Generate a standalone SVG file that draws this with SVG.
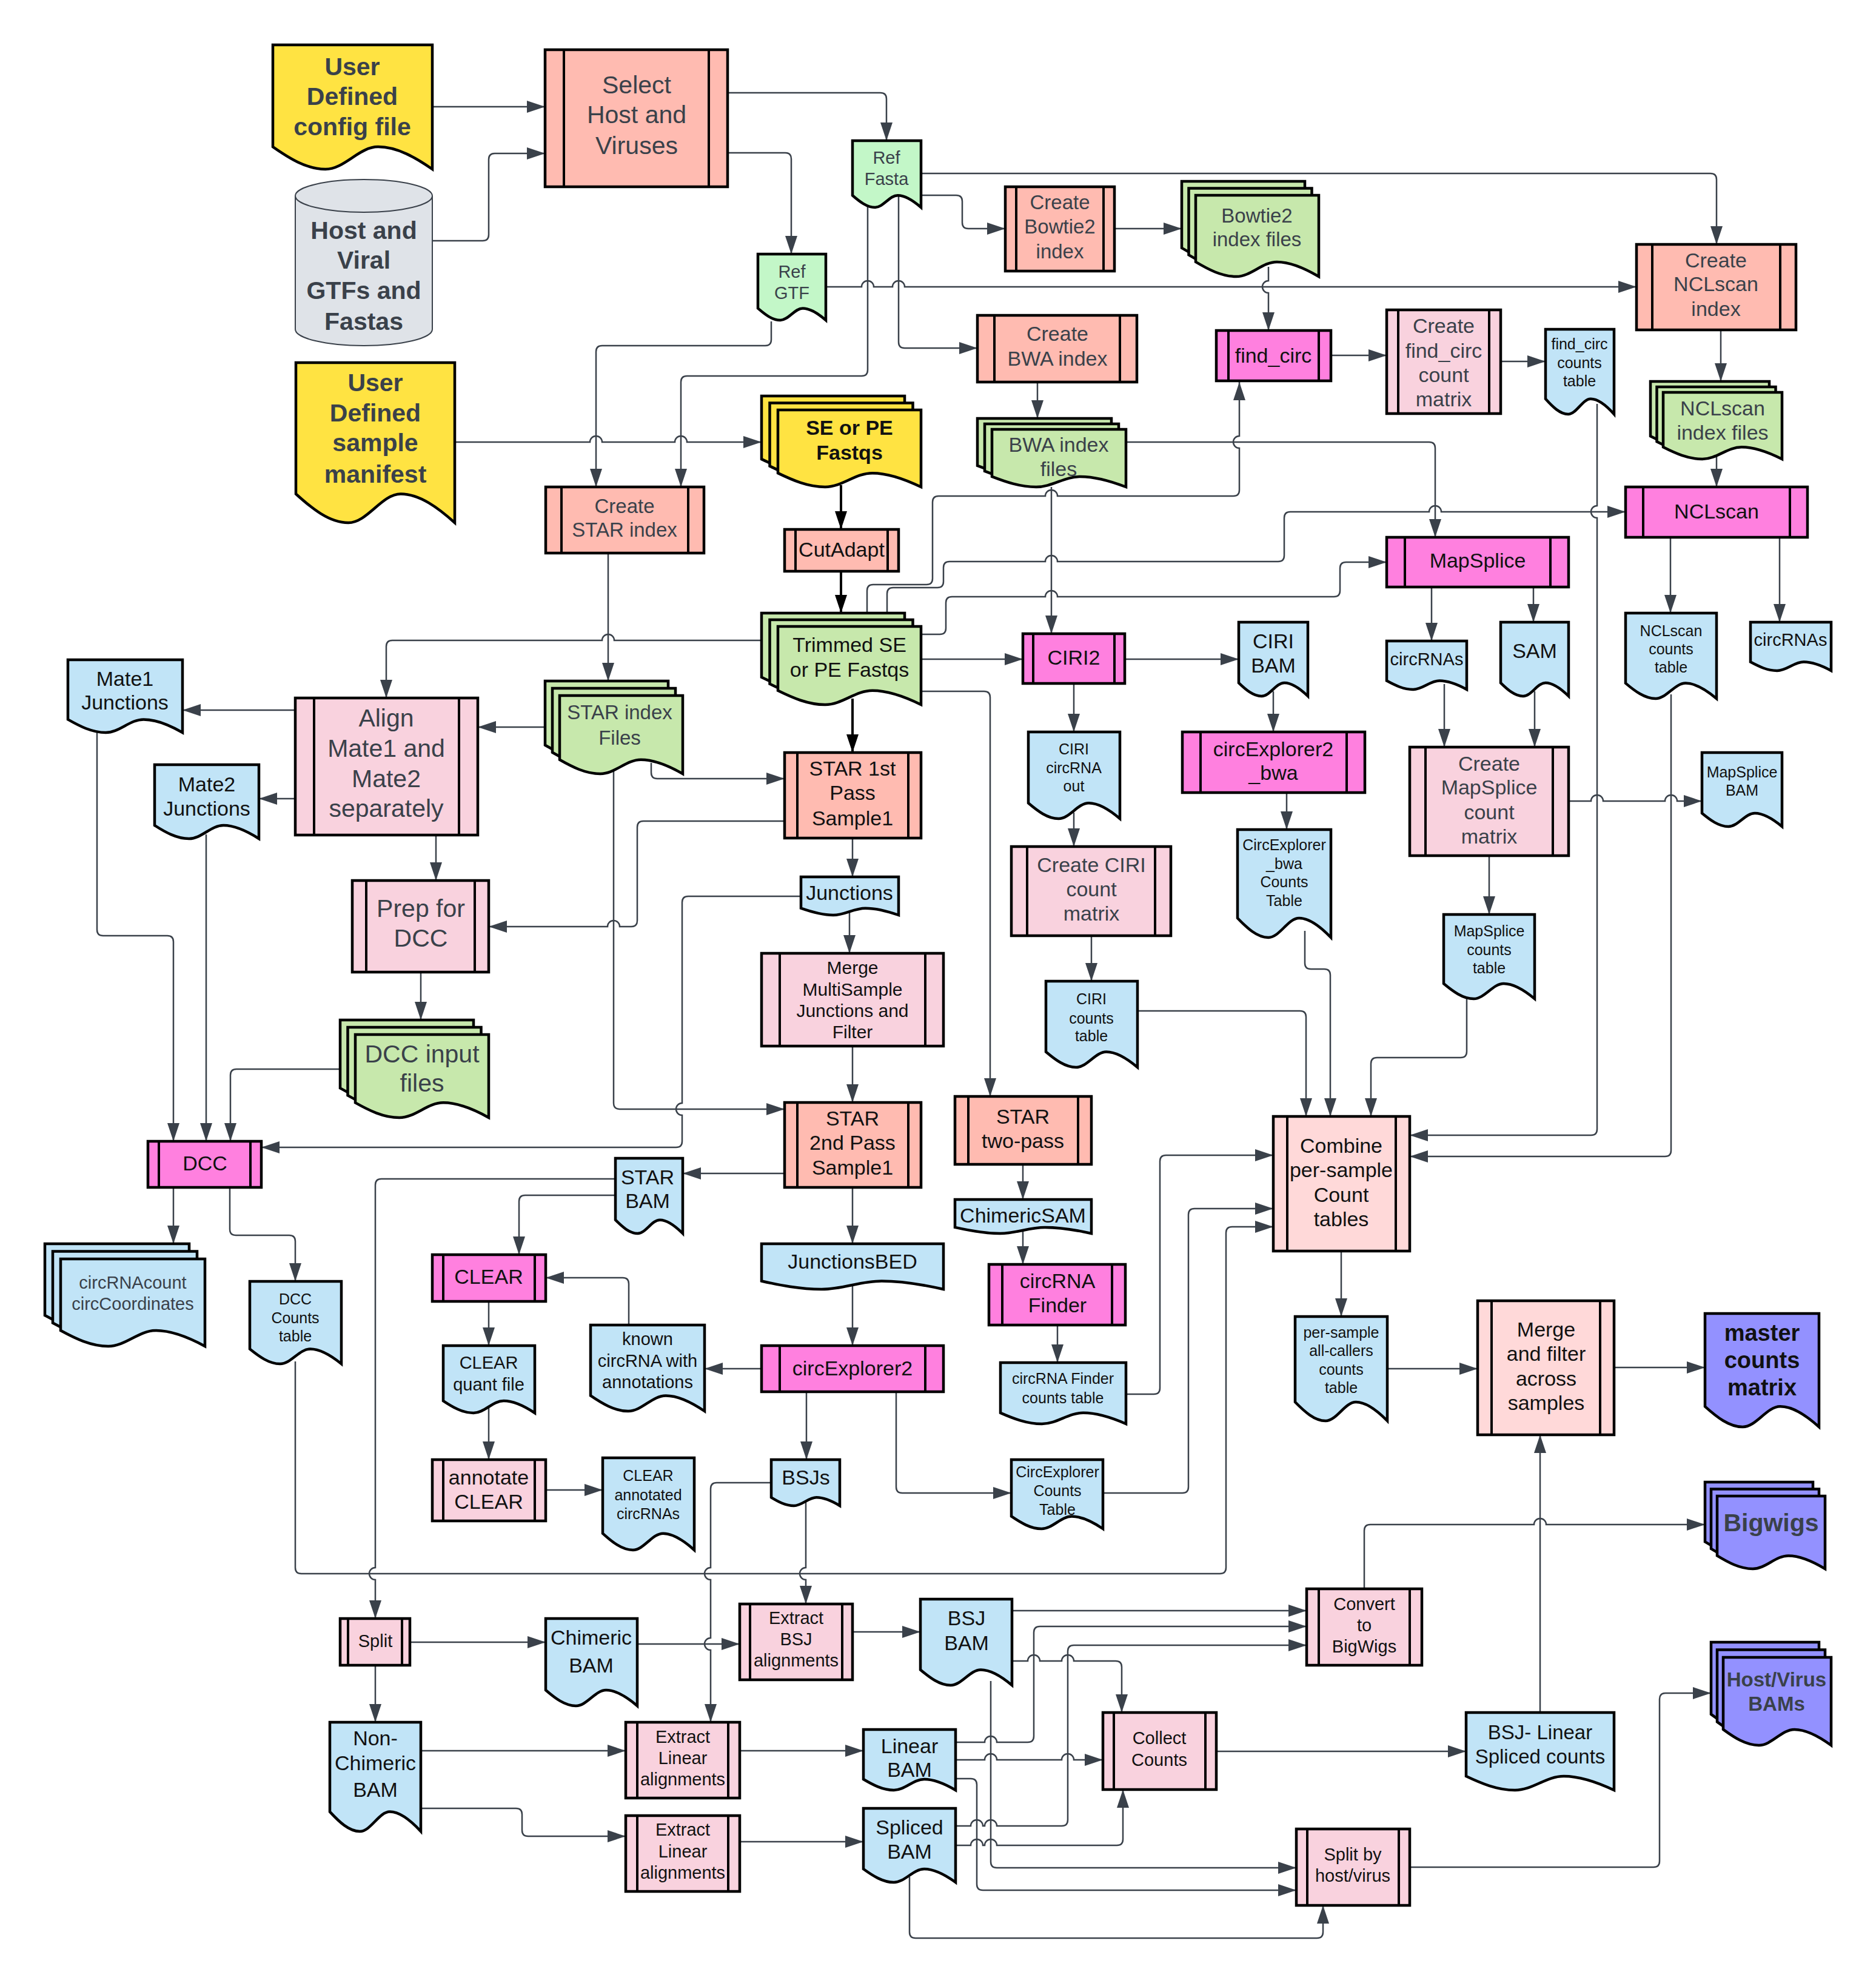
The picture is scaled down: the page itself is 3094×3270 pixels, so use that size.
<svg xmlns="http://www.w3.org/2000/svg" width="3094" height="3270" viewBox="0 0 3094 3270">
<defs>
<style>
.pb{stroke:#000;stroke-width:4.5}
.bar{stroke:#000;stroke-width:4;fill:none}
.d{stroke:#000;stroke-width:4.5;vector-effect:non-scaling-stroke}
.c{fill:none;stroke:#3a414a;stroke-width:2.5;marker-end:url(#ah)}
.ck{fill:none;stroke:#000;stroke-width:4;marker-end:url(#ahk)}
.sal{fill:#FFBBB1}.lp{fill:#F9D2DE}.xp{fill:#FFD9D9}.mg{fill:#FF80DF}.bl{fill:#C1E4F7}.gr{fill:#C7E8AC}.lg{fill:#C3F7C8}.ye{fill:#FFE342}.pu{fill:#9391FF}
text{font-family:"Liberation Sans",Arial,"Noto Sans",sans-serif;text-anchor:middle;dominant-baseline:central;fill:#111}
.g{fill:#3a414a}.b{font-weight:bold}
.f41{font-size:41px}.f38{font-size:38px}.f34{font-size:34px}.f33{font-size:33px}.f30{font-size:30px}.f29{font-size:29px}.f25{font-size:25px}
</style>
<marker id="ah" viewBox="0 0 30 20" refX="30" refY="10" markerWidth="30" markerHeight="20" markerUnits="userSpaceOnUse" orient="auto"><path d="M0,0 L30,10 L0,20 Z" fill="#3a414a"/></marker>
<marker id="ahk" viewBox="0 0 30 20" refX="30" refY="10" markerWidth="30" markerHeight="20" markerUnits="userSpaceOnUse" orient="auto"><path d="M0,0 L30,10 L0,20 Z" fill="#000"/></marker>
</defs>
<rect width="3094" height="3270" fill="#fff"/>

<g id="connectors">
<path class="c" d="M713,176 H899"/>
<path class="c" d="M713,397 H796 Q806,397 806,387 V263 Q806,253 816,253 H899"/>
<path class="c" d="M1200,153 H1452 Q1462,153 1462,163 V232"/>
<path class="c" d="M1200,252 H1295 Q1305,252 1305,262 V419"/>
<path class="c" d="M750,729 H973 A10,10 0 0 1 993,729 H1113 A10,10 0 0 1 1133,729 H1256"/>
<path class="c" d="M1272,530 V560 Q1272,570 1262,570 H993 Q983,570 983,580 V803"/>
<path class="c" d="M1431,340 V610 Q1431,620 1421,620 H1133 Q1123,620 1123,630 V803"/>
<path class="c" d="M1362,473 H1421 A10,10 0 0 1 1441,473 H1472 A10,10 0 0 1 1492,473 H2699"/>
<path class="c" d="M1519,286 H2821 Q2831,286 2831,296 V403"/>
<path class="c" d="M1519,322 H1577 Q1587,322 1587,332 V367 Q1587,377 1597,377 H1658"/>
<path class="c" d="M1838,377 H1949"/>
<path class="c" d="M1482,324 V564 Q1482,574 1492,574 H1612"/>
<path class="c" d="M1711,630 V690"/>
<path class="c" d="M2092,440 V463 A10,10 0 0 0 2092,483 V545"/>
<path class="c" d="M2195,586 H2287"/>
<path class="c" d="M2475,596 H2549"/>
<path class="c" d="M2838,544 V629"/>
<path class="c" d="M2831,752 V803"/>
<path class="ck" d="M1387,800 V873"/>
<path class="ck" d="M1387,942 V1011"/>
<path class="ck" d="M1406,1152 V1241"/>
<path class="c" d="M1430,1011 V974 Q1430,964 1440,964 H1528 Q1538,964 1538,954 V828 Q1538,818 1548,818 H1724 A10,10 0 0 1 1744,818 H2034 Q2044,818 2044,808 V739 A10,10 0 0 1 2044,719 V630"/>
<path class="c" d="M1463,1011 V979 Q1463,969 1473,969 H1546 Q1556,969 1556,959 V936 Q1556,926 1566,926 H1724 A10,10 0 0 1 1744,926 H2108 Q2118,926 2118,916 V854 Q2118,844 2128,844 H2357 A10,10 0 0 1 2377,844 H2681"/>
<path class="c" d="M1519,1046 H1550 Q1560,1046 1560,1036 V994 Q1560,984 1570,984 H1724 A10,10 0 0 1 1744,984 H2200 Q2210,984 2210,974 V937 Q2210,927 2220,927 H2287"/>
<path class="c" d="M1734,803 V1045"/>
<path class="c" d="M1857,729 H2357 Q2367,729 2367,739 V886"/>
<path class="c" d="M2361,968 V1057"/>
<path class="c" d="M2529,968 V1026"/>
<path class="c" d="M2382,1128 V1232"/>
<path class="c" d="M2531,1140 V1232"/>
<path class="c" d="M2587,1321 H2624 A10,10 0 0 1 2644,1321 H2746 A10,10 0 0 1 2766,1321 H2807"/>
<path class="c" d="M2456,1411 V1508"/>
<path class="c" d="M2755,886 V1011"/>
<path class="c" d="M2935,886 V1026"/>
<path class="c" d="M2634,666 V834 A10,10 0 0 0 2634,854 V1862 Q2634,1872 2624,1872 H2325"/>
<path class="c" d="M2756,1145 V1897 Q2756,1907 2746,1907 H2325"/>
<path class="c" d="M2419,1638 V1734 Q2419,1744 2409,1744 H2271 Q2261,1744 2261,1754 V1841"/>
<path class="c" d="M2152,1535 V1588 Q2152,1598 2162,1598 H2184 Q2194,1598 2194,1608 V1841"/>
<path class="c" d="M1876,1667 H2144 Q2154,1667 2154,1677 V1841"/>
<path class="c" d="M1855,1087 H2043"/>
<path class="c" d="M1519,1087 H1687"/>
<path class="c" d="M2100,1140 V1207"/>
<path class="c" d="M2122,1307 V1368"/>
<path class="c" d="M1771,1127 V1207"/>
<path class="c" d="M1771,1340 V1396"/>
<path class="c" d="M1800,1543 V1618"/>
<path class="c" d="M1519,1140 H1623 Q1633,1140 1633,1150 V1808"/>
<path class="c" d="M1687,1920 V1978"/>
<path class="c" d="M1687,2030 V2085"/>
<path class="c" d="M1744,2185 V2247"/>
<path class="c" d="M1857,2299 H1903 Q1913,2299 1913,2289 V1915 Q1913,1905 1923,1905 H2100"/>
<path class="c" d="M1819,2462 H1950 Q1960,2462 1960,2452 V2003 Q1960,1993 1970,1993 H2100"/>
<path class="c" d="M487,2245 V2585 Q487,2595 497,2595 H2012 Q2022,2595 2022,2585 V2033 Q2022,2023 2032,2023 H2100"/>
<path class="c" d="M2212,2063 V2171"/>
<path class="c" d="M2288,2257 H2437"/>
<path class="c" d="M2662,2255 H2812"/>
<path class="c" d="M1256,1056 H1013 A10,10 0 0 0 993,1056 H647 Q637,1056 637,1066 V1151"/>
<path class="c" d="M1003,912 V1123"/>
<path class="c" d="M899,1199 H788"/>
<path class="c" d="M487,1171 H301"/>
<path class="c" d="M487,1317 H427"/>
<path class="c" d="M719,1377 V1452"/>
<path class="c" d="M694,1603 V1682"/>
<path class="c" d="M1074,1258 V1274 Q1074,1284 1084,1284 H1294"/>
<path class="c" d="M1294,1354 H1061 Q1051,1354 1051,1364 V1518 Q1051,1528 1041,1528 H1022 A10,10 0 0 0 1002,1528 H806"/>
<path class="c" d="M1406,1382 V1446"/>
<path class="c" d="M1321,1478 H1135 Q1125,1478 1125,1488 V1819 A10,10 0 0 0 1125,1839 V1882 Q1125,1892 1115,1892 H431"/>
<path class="c" d="M1012,1272 V1819 Q1012,1829 1022,1829 H1294"/>
<path class="c" d="M1406,1725 V1818"/>
<path class="c" d="M1401,1505 V1572"/>
<path class="c" d="M1294,1935 H1126"/>
<path class="c" d="M1406,1958 V2051"/>
<path class="c" d="M1406,2120 V2219"/>
<path class="c" d="M1256,2257 H1162"/>
<path class="c" d="M1037,2185 V2117 Q1037,2107 1027,2107 H900"/>
<path class="c" d="M1015,1971 H866 Q856,1971 856,1981 V2069"/>
<path class="c" d="M1015,1944 H629 Q619,1944 619,1954 V2585 A10,10 0 0 0 619,2605 V2669"/>
<path class="c" d="M806,2146 V2219"/>
<path class="c" d="M806,2322 V2407"/>
<path class="c" d="M900,2457 H994"/>
<path class="c" d="M286,1958 V2051"/>
<path class="c" d="M379,1958 V2027 Q379,2037 389,2037 H477 Q487,2037 487,2047 V2113"/>
<path class="c" d="M160,1205 V1533 Q160,1543 170,1543 H276 Q286,1543 286,1553 V1882"/>
<path class="c" d="M340,1376 V1882"/>
<path class="c" d="M561,1763 H390 Q380,1763 380,1773 V1882"/>
<path class="c" d="M1330,2295 V2407"/>
<path class="c" d="M1478,2295 V2452 Q1478,2462 1488,2462 H1668"/>
<path class="c" d="M1272,2445 H1182 Q1172,2445 1172,2455 V2585 A10,10 0 0 0 1172,2605 V2701 A10,10 0 0 0 1172,2721 V2840"/>
<path class="c" d="M1329,2476 V2585 A10,10 0 0 0 1329,2605 V2645"/>
<path class="c" d="M676,2708 H900"/>
<path class="c" d="M619,2746 V2840"/>
<path class="c" d="M1051,2711 H1220"/>
<path class="c" d="M694,2887 H1032"/>
<path class="c" d="M694,2982 H851 Q861,2982 861,2992 V3018 Q861,3028 871,3028 H1032"/>
<path class="c" d="M1406,2691 H1518"/>
<path class="c" d="M1220,2887 H1424"/>
<path class="c" d="M1220,3037 H1424"/>
<path class="c" d="M1669,2656 H2155"/>
<path class="c" d="M1576,2873 H1624 A10,10 0 0 1 1644,2873 H1695 Q1705,2873 1705,2863 V2692 Q1705,2682 1715,2682 H2155"/>
<path class="c" d="M1576,3011 H1601 A10,10 0 0 1 1621,3011 H1624 A10,10 0 0 1 1644,3011 H1751 Q1761,3011 1761,3001 V2723 Q1761,2713 1771,2713 H2155"/>
<path class="c" d="M1669,2739 H1695 A10,10 0 0 1 1715,2739 H1751 A10,10 0 0 1 1771,2739 H1840 Q1850,2739 1850,2749 V2824"/>
<path class="c" d="M1576,2902 H1624 A10,10 0 0 1 1644,2902 H1751 A10,10 0 0 1 1771,2902 H1819"/>
<path class="c" d="M1576,3043 H1601 A10,10 0 0 1 1621,3043 H1624 A10,10 0 0 1 1644,3043 H1842 Q1852,3043 1852,3033 V2951"/>
<path class="c" d="M1634,2772 V3070 Q1634,3080 1644,3080 H2138"/>
<path class="c" d="M1576,2933 H1601 Q1611,2933 1611,2943 V3107 Q1611,3117 1621,3117 H2138"/>
<path class="c" d="M1500,3095 V3186 Q1500,3196 1510,3196 H2172 Q2182,3196 2182,3186 V3142"/>
<path class="c" d="M2006,2888 H2418"/>
<path class="c" d="M2540,2824 V2366"/>
<path class="c" d="M2250,2620 V2524 Q2250,2514 2260,2514 H2530 A10,10 0 0 1 2550,2514 H2812"/>
<path class="c" d="M2325,3079 H2727 Q2737,3079 2737,3069 V2802 Q2737,2792 2747,2792 H2822"/>
</g>

<!-- Inputs -->
<g id="n-config">
<path class="d ye" transform="translate(450,74) scale(263,205)" d="M0,0H1V1C0.9,0.91 0.78,0.82 0.66,0.82C0.54,0.82 0.45,1 0.33,1C0.21,1 0.1,0.91 0,0.82Z"/>
<text class="f41 b g"><tspan x="581" y="110">User</tspan><tspan x="581" y="159">Defined</tspan><tspan x="581" y="209">config file</tspan></text>
</g>
<g id="n-hostviral">
<path d="M487,323 V543 A113,27 0 0 0 713,543 V323 A113,27 0 0 0 487,323 Z" fill="#DFE3E8" stroke="#3a414a" stroke-width="2"/>
<path d="M487,323 A113,27 0 0 0 713,323" fill="none" stroke="#3a414a" stroke-width="2"/>
<text class="f41 b g"><tspan x="600" y="380">Host and</tspan><tspan x="600" y="429">Viral</tspan><tspan x="600" y="479">GTFs and</tspan><tspan x="600" y="530">Fastas</tspan></text>
</g>
<g id="n-manifest">
<path class="d ye" transform="translate(488,598) scale(262,264)" d="M0,0H1V1C0.9,0.91 0.78,0.82 0.66,0.82C0.54,0.82 0.45,1 0.33,1C0.21,1 0.1,0.91 0,0.82Z"/>
<text class="f41 b g"><tspan x="619" y="631">User</tspan><tspan x="619" y="681">Defined</tspan><tspan x="619" y="730">sample</tspan><tspan x="619" y="782">manifest</tspan></text>
</g>
<g id="n-select">
<rect class="pb sal" x="899" y="82" width="301" height="226"/><path class="bar" d="M930,82v226M1169,82v226"/>
<text class="f41 g"><tspan x="1050" y="140">Select</tspan><tspan x="1050" y="189">Host and</tspan><tspan x="1050" y="240">Viruses</tspan></text>
</g>
<g id="n-reffasta">
<path class="d lg" transform="translate(1406,232) scale(113,110)" d="M0,0H1V1C0.9,0.91 0.78,0.82 0.66,0.82C0.54,0.82 0.45,1 0.33,1C0.21,1 0.1,0.91 0,0.82Z"/>
<text class="f29 g"><tspan x="1462" y="260">Ref</tspan><tspan x="1462" y="295">Fasta</tspan></text>
</g>
<g id="n-refgtf">
<path class="d lg" transform="translate(1250,419) scale(112,109)" d="M0,0H1V1C0.9,0.91 0.78,0.82 0.66,0.82C0.54,0.82 0.45,1 0.33,1C0.21,1 0.1,0.91 0,0.82Z"/>
<text class="f29 g"><tspan x="1306" y="448">Ref</tspan><tspan x="1306" y="483">GTF</tspan></text>
</g>
<g id="n-bowtie2">
<rect class="pb sal" x="1658" y="308" width="180" height="139"/><path class="bar" d="M1676,308v139M1820,308v139"/>
<text class="f33 g"><tspan x="1748" y="333">Create</tspan><tspan x="1748" y="373">Bowtie2</tspan><tspan x="1748" y="414">index</tspan></text>
</g>
<g id="n-bowtie2files">
<path class="d gr" transform="translate(1949,299) scale(203,134)" d="M0,0H1V1C0.9,0.91 0.78,0.82 0.66,0.82C0.54,0.82 0.45,1 0.33,1C0.21,1 0.1,0.91 0,0.82Z"/>
<path class="d gr" transform="translate(1960.5,310.5) scale(203,134)" d="M0,0H1V1C0.9,0.91 0.78,0.82 0.66,0.82C0.54,0.82 0.45,1 0.33,1C0.21,1 0.1,0.91 0,0.82Z"/>
<path class="d gr" transform="translate(1972,322) scale(203,134)" d="M0,0H1V1C0.9,0.91 0.78,0.82 0.66,0.82C0.54,0.82 0.45,1 0.33,1C0.21,1 0.1,0.91 0,0.82Z"/>
<text class="f33 g"><tspan x="2073" y="355">Bowtie2</tspan><tspan x="2073" y="394">index files</tspan></text>
</g>
<g id="n-bwa">
<rect class="pb sal" x="1612" y="520" width="263" height="110"/><path class="bar" d="M1640,520v110M1847,520v110"/>
<text class="f34 g"><tspan x="1744" y="550">Create</tspan><tspan x="1744" y="591">BWA index</tspan></text>
</g>
<g id="n-bwafiles">
<path class="d gr" transform="translate(1612,690) scale(221,95)" d="M0,0H1V1C0.9,0.91 0.78,0.82 0.66,0.82C0.54,0.82 0.45,1 0.33,1C0.21,1 0.1,0.91 0,0.82Z"/>
<path class="d gr" transform="translate(1624,699) scale(221,95)" d="M0,0H1V1C0.9,0.91 0.78,0.82 0.66,0.82C0.54,0.82 0.45,1 0.33,1C0.21,1 0.1,0.91 0,0.82Z"/>
<path class="d gr" transform="translate(1636,708) scale(221,95)" d="M0,0H1V1C0.9,0.91 0.78,0.82 0.66,0.82C0.54,0.82 0.45,1 0.33,1C0.21,1 0.1,0.91 0,0.82Z"/>
<text class="f34 g"><tspan x="1746" y="733">BWA index</tspan><tspan x="1746" y="773">files</tspan></text>
</g>
<g id="n-nclscanidx">
<rect class="pb sal" x="2699" y="403" width="263" height="141"/><path class="bar" d="M2725,403v141M2936,403v141"/>
<text class="f34 g"><tspan x="2830" y="429">Create</tspan><tspan x="2830" y="468">NCLscan</tspan><tspan x="2830" y="509">index</tspan></text>
</g>
<g id="n-nclscanfiles">
<path class="d gr" transform="translate(2722,629) scale(196,110)" d="M0,0H1V1C0.9,0.91 0.78,0.82 0.66,0.82C0.54,0.82 0.45,1 0.33,1C0.21,1 0.1,0.91 0,0.82Z"/>
<path class="d gr" transform="translate(2732.5,638) scale(196,110)" d="M0,0H1V1C0.9,0.91 0.78,0.82 0.66,0.82C0.54,0.82 0.45,1 0.33,1C0.21,1 0.1,0.91 0,0.82Z"/>
<path class="d gr" transform="translate(2743,647) scale(196,110)" d="M0,0H1V1C0.9,0.91 0.78,0.82 0.66,0.82C0.54,0.82 0.45,1 0.33,1C0.21,1 0.1,0.91 0,0.82Z"/>
<text class="f34 g"><tspan x="2841" y="673">NCLscan</tspan><tspan x="2841" y="713">index files</tspan></text>
</g>
<g id="n-findcirc">
<rect class="pb mg" x="2006" y="545" width="189" height="83"/><path class="bar" d="M2026,545v83M2175,545v83"/>
<text class="f34" x="2100" y="586">find_circ</text>
</g>
<g id="n-createfindcirc">
<rect class="pb lp" x="2287" y="511" width="188" height="171"/><path class="bar" d="M2306,511v171M2456,511v171"/>
<text class="f34 g"><tspan x="2381" y="537">Create</tspan><tspan x="2381" y="578">find_circ</tspan><tspan x="2381" y="618">count</tspan><tspan x="2381" y="658">matrix</tspan></text>
</g>
<g id="n-findcirccounts">
<path class="d bl" transform="translate(2549,543) scale(113,140)" d="M0,0H1V1C0.9,0.91 0.78,0.82 0.66,0.82C0.54,0.82 0.45,1 0.33,1C0.21,1 0.1,0.91 0,0.82Z"/>
<text class="f25"><tspan x="2605" y="567">find_circ</tspan><tspan x="2605" y="598">counts</tspan><tspan x="2605" y="628">table</tspan></text>
</g>
<g id="n-starindex">
<rect class="pb sal" x="900" y="803" width="261" height="109"/><path class="bar" d="M926,803v109M1135,803v109"/>
<text class="f33 g"><tspan x="1030" y="834">Create</tspan><tspan x="1030" y="873">STAR index</tspan></text>
</g>
<g id="n-sepe">
<path class="d ye" transform="translate(1256,653) scale(236,127)" d="M0,0H1V1C0.9,0.91 0.78,0.82 0.66,0.82C0.54,0.82 0.45,1 0.33,1C0.21,1 0.1,0.91 0,0.82Z"/>
<path class="d ye" transform="translate(1269.5,664.5) scale(236,127)" d="M0,0H1V1C0.9,0.91 0.78,0.82 0.66,0.82C0.54,0.82 0.45,1 0.33,1C0.21,1 0.1,0.91 0,0.82Z"/>
<path class="d ye" transform="translate(1283,676) scale(236,127)" d="M0,0H1V1C0.9,0.91 0.78,0.82 0.66,0.82C0.54,0.82 0.45,1 0.33,1C0.21,1 0.1,0.91 0,0.82Z"/>
<text class="f34 b"><tspan x="1401" y="705">SE or PE</tspan><tspan x="1401" y="746">Fastqs</tspan></text>
</g>
<g id="n-cutadapt">
<rect class="pb sal" x="1294" y="873" width="188" height="69"/><path class="bar" d="M1312,873v69M1464,873v69"/>
<text class="f34" x="1388" y="906">CutAdapt</text>
</g>
<g id="n-trimmed">
<path class="d gr" transform="translate(1256,1011) scale(236,129)" d="M0,0H1V1C0.9,0.91 0.78,0.82 0.66,0.82C0.54,0.82 0.45,1 0.33,1C0.21,1 0.1,0.91 0,0.82Z"/>
<path class="d gr" transform="translate(1269.5,1022) scale(236,129)" d="M0,0H1V1C0.9,0.91 0.78,0.82 0.66,0.82C0.54,0.82 0.45,1 0.33,1C0.21,1 0.1,0.91 0,0.82Z"/>
<path class="d gr" transform="translate(1283,1033) scale(236,129)" d="M0,0H1V1C0.9,0.91 0.78,0.82 0.66,0.82C0.54,0.82 0.45,1 0.33,1C0.21,1 0.1,0.91 0,0.82Z"/>
<text class="f34"><tspan x="1401" y="1063">Trimmed SE</tspan><tspan x="1401" y="1104">or PE Fastqs</tspan></text>
</g>
<g id="n-nclscan">
<rect class="pb mg" x="2681" y="803" width="300" height="83"/><path class="bar" d="M2710,803v83M2952,803v83"/>
<text class="f34" x="2831" y="843">NCLscan</text>
</g>
<g id="n-mapsplice">
<rect class="pb mg" x="2287" y="886" width="300" height="82"/><path class="bar" d="M2317,886v82M2557,886v82"/>
<text class="f34" x="2437" y="924">MapSplice</text>
</g>
<g id="n-mscircrnas">
<path class="d bl" transform="translate(2287,1057) scale(132,80)" d="M0,0H1V1C0.9,0.91 0.78,0.82 0.66,0.82C0.54,0.82 0.45,1 0.33,1C0.21,1 0.1,0.91 0,0.82Z"/>
<text class="f29" x="2353" y="1087">circRNAs</text>
</g>
<g id="n-sam">
<path class="d bl" transform="translate(2475,1026) scale(112,122)" d="M0,0H1V1C0.9,0.91 0.78,0.82 0.66,0.82C0.54,0.82 0.45,1 0.33,1C0.21,1 0.1,0.91 0,0.82Z"/>
<text class="f34" x="2531" y="1073">SAM</text>
</g>
<g id="n-nclcounts">
<path class="d bl" transform="translate(2681,1011) scale(150,141)" d="M0,0H1V1C0.9,0.91 0.78,0.82 0.66,0.82C0.54,0.82 0.45,1 0.33,1C0.21,1 0.1,0.91 0,0.82Z"/>
<text class="f25"><tspan x="2756" y="1040">NCLscan</tspan><tspan x="2756" y="1070">counts</tspan><tspan x="2756" y="1100">table</tspan></text>
</g>
<g id="n-nclcircrnas">
<path class="d bl" transform="translate(2887,1026) scale(133,80)" d="M0,0H1V1C0.9,0.91 0.78,0.82 0.66,0.82C0.54,0.82 0.45,1 0.33,1C0.21,1 0.1,0.91 0,0.82Z"/>
<text class="f29" x="2953" y="1055">circRNAs</text>
</g>
<g id="n-ciri2">
<rect class="pb mg" x="1687" y="1045" width="168" height="82"/><path class="bar" d="M1704,1045v82M1838,1045v82"/>
<text class="f34" x="1771" y="1084">CIRI2</text>
</g>
<g id="n-ciribam">
<path class="d bl" transform="translate(2043,1026) scale(114,122)" d="M0,0H1V1C0.9,0.91 0.78,0.82 0.66,0.82C0.54,0.82 0.45,1 0.33,1C0.21,1 0.1,0.91 0,0.82Z"/>
<text class="f34"><tspan x="2100" y="1057">CIRI</tspan><tspan x="2100" y="1097">BAM</tspan></text>
</g>
<g id="n-ce2bwa">
<rect class="pb mg" x="1950" y="1207" width="301" height="100"/><path class="bar" d="M1980,1207v100M2221,1207v100"/>
<text class="f34"><tspan x="2100" y="1235">circExplorer2</tspan><tspan x="2100" y="1274">_bwa</tspan></text>
</g>
<g id="n-ce2bwacounts">
<path class="d bl" transform="translate(2041,1368) scale(154,178)" d="M0,0H1V1C0.9,0.91 0.78,0.82 0.66,0.82C0.54,0.82 0.45,1 0.33,1C0.21,1 0.1,0.91 0,0.82Z"/>
<text class="f25"><tspan x="2118" y="1393">CircExplorer</tspan><tspan x="2118" y="1424">_bwa</tspan><tspan x="2118" y="1454">Counts</tspan><tspan x="2118" y="1485">Table</tspan></text>
</g>
<g id="n-createms">
<rect class="pb lp" x="2325" y="1232" width="262" height="179"/><path class="bar" d="M2351,1232v179M2561,1232v179"/>
<text class="f34 g"><tspan x="2456" y="1259">Create</tspan><tspan x="2456" y="1298">MapSplice</tspan><tspan x="2456" y="1339">count</tspan><tspan x="2456" y="1379">matrix</tspan></text>
</g>
<g id="n-msbam">
<path class="d bl" transform="translate(2807,1241) scale(132,122)" d="M0,0H1V1C0.9,0.91 0.78,0.82 0.66,0.82C0.54,0.82 0.45,1 0.33,1C0.21,1 0.1,0.91 0,0.82Z"/>
<text class="f25"><tspan x="2873" y="1273">MapSplice</tspan><tspan x="2873" y="1303">BAM</tspan></text>
</g>
<g id="n-mscounts">
<path class="d bl" transform="translate(2381,1508) scale(150,139)" d="M0,0H1V1C0.9,0.91 0.78,0.82 0.66,0.82C0.54,0.82 0.45,1 0.33,1C0.21,1 0.1,0.91 0,0.82Z"/>
<text class="f25"><tspan x="2456" y="1535">MapSplice</tspan><tspan x="2456" y="1566">counts</tspan><tspan x="2456" y="1596">table</tspan></text>
</g>
<g id="n-ciriout">
<path class="d bl" transform="translate(1696,1207) scale(151,143)" d="M0,0H1V1C0.9,0.91 0.78,0.82 0.66,0.82C0.54,0.82 0.45,1 0.33,1C0.21,1 0.1,0.91 0,0.82Z"/>
<text class="f25"><tspan x="1771" y="1235">CIRI</tspan><tspan x="1771" y="1266">circRNA</tspan><tspan x="1771" y="1296">out</tspan></text>
</g>
<g id="n-createciri">
<rect class="pb lp" x="1668" y="1396" width="263" height="147"/><path class="bar" d="M1694,1396v147M1905,1396v147"/>
<text class="f34 g"><tspan x="1800" y="1426">Create CIRI</tspan><tspan x="1800" y="1466">count</tspan><tspan x="1800" y="1506">matrix</tspan></text>
</g>
<g id="n-ciricounts">
<path class="d bl" transform="translate(1725,1618) scale(151,142)" d="M0,0H1V1C0.9,0.91 0.78,0.82 0.66,0.82C0.54,0.82 0.45,1 0.33,1C0.21,1 0.1,0.91 0,0.82Z"/>
<text class="f25"><tspan x="1800" y="1647">CIRI</tspan><tspan x="1800" y="1679">counts</tspan><tspan x="1800" y="1708">table</tspan></text>
</g>
<g id="n-starfiles">
<path class="d gr" transform="translate(899,1123) scale(203,129)" d="M0,0H1V1C0.9,0.91 0.78,0.82 0.66,0.82C0.54,0.82 0.45,1 0.33,1C0.21,1 0.1,0.91 0,0.82Z"/>
<path class="d gr" transform="translate(911,1135) scale(203,129)" d="M0,0H1V1C0.9,0.91 0.78,0.82 0.66,0.82C0.54,0.82 0.45,1 0.33,1C0.21,1 0.1,0.91 0,0.82Z"/>
<path class="d gr" transform="translate(923,1147) scale(203,129)" d="M0,0H1V1C0.9,0.91 0.78,0.82 0.66,0.82C0.54,0.82 0.45,1 0.33,1C0.21,1 0.1,0.91 0,0.82Z"/>
<text class="f33 g"><tspan x="1022" y="1174">STAR index</tspan><tspan x="1022" y="1216">Files</tspan></text>
</g>
<g id="n-align">
<rect class="pb lp" x="487" y="1151" width="301" height="226"/><path class="bar" d="M518,1151v226M757,1151v226"/>
<text class="f41 g"><tspan x="637" y="1184">Align</tspan><tspan x="637" y="1234">Mate1 and</tspan><tspan x="637" y="1284">Mate2</tspan><tspan x="637" y="1333">separately</tspan></text>
</g>
<g id="n-mate1">
<path class="d bl" transform="translate(112,1088) scale(189,120)" d="M0,0H1V1C0.9,0.91 0.78,0.82 0.66,0.82C0.54,0.82 0.45,1 0.33,1C0.21,1 0.1,0.91 0,0.82Z"/>
<text class="f34"><tspan x="206" y="1119">Mate1</tspan><tspan x="206" y="1158">Junctions</tspan></text>
</g>
<g id="n-mate2">
<path class="d bl" transform="translate(255,1261) scale(172,122)" d="M0,0H1V1C0.9,0.91 0.78,0.82 0.66,0.82C0.54,0.82 0.45,1 0.33,1C0.21,1 0.1,0.91 0,0.82Z"/>
<text class="f34"><tspan x="341" y="1293">Mate2</tspan><tspan x="341" y="1333">Junctions</tspan></text>
</g>
<g id="n-star1">
<rect class="pb sal" x="1294" y="1241" width="225" height="141"/><path class="bar" d="M1315,1241v141M1498,1241v141"/>
<text class="f34"><tspan x="1406" y="1267">STAR 1st</tspan><tspan x="1406" y="1307">Pass</tspan><tspan x="1406" y="1349">Sample1</tspan></text>
</g>
<g id="n-junctions">
<path class="d bl" transform="translate(1321,1446) scale(161,63)" d="M0,0H1V1C0.9,0.91 0.78,0.82 0.66,0.82C0.54,0.82 0.45,1 0.33,1C0.21,1 0.1,0.91 0,0.82Z"/>
<text class="f34" x="1401" y="1472">Junctions</text>
</g>
<g id="n-prepdcc">
<rect class="pb lp" x="581" y="1452" width="225" height="151"/><path class="bar" d="M604,1452v151M783,1452v151"/>
<text class="f41 g"><tspan x="694" y="1498">Prep for</tspan><tspan x="694" y="1547">DCC</tspan></text>
</g>
<g id="n-mergems">
<rect class="pb lp" x="1256" y="1572" width="300" height="153"/><path class="bar" d="M1286,1572v153M1526,1572v153"/>
<text class="f30"><tspan x="1406" y="1595">Merge</tspan><tspan x="1406" y="1631">MultiSample</tspan><tspan x="1406" y="1666">Junctions and</tspan><tspan x="1406" y="1701">Filter</tspan></text>
</g>
<g id="n-dccinput">
<path class="d gr" transform="translate(561,1682) scale(220,137)" d="M0,0H1V1C0.9,0.91 0.78,0.82 0.66,0.82C0.54,0.82 0.45,1 0.33,1C0.21,1 0.1,0.91 0,0.82Z"/>
<path class="d gr" transform="translate(573.5,1694) scale(220,137)" d="M0,0H1V1C0.9,0.91 0.78,0.82 0.66,0.82C0.54,0.82 0.45,1 0.33,1C0.21,1 0.1,0.91 0,0.82Z"/>
<path class="d gr" transform="translate(586,1706) scale(220,137)" d="M0,0H1V1C0.9,0.91 0.78,0.82 0.66,0.82C0.54,0.82 0.45,1 0.33,1C0.21,1 0.1,0.91 0,0.82Z"/>
<text class="f41 g"><tspan x="696" y="1738">DCC input</tspan><tspan x="696" y="1786">files</tspan></text>
</g>
<g id="n-star2">
<rect class="pb sal" x="1294" y="1818" width="225" height="140"/><path class="bar" d="M1315,1818v140M1498,1818v140"/>
<text class="f34"><tspan x="1406" y="1844">STAR</tspan><tspan x="1406" y="1884">2nd Pass</tspan><tspan x="1406" y="1925">Sample1</tspan></text>
</g>
<g id="n-startwopass">
<rect class="pb sal" x="1575" y="1808" width="225" height="112"/><path class="bar" d="M1597,1808v112M1778,1808v112"/>
<text class="f34"><tspan x="1687" y="1841">STAR</tspan><tspan x="1687" y="1881">two-pass</tspan></text>
</g>
<g id="n-chimericsam">
<path class="d bl" transform="translate(1575,1978) scale(225,56)" d="M0,0H1V1C0.9,0.91 0.78,0.82 0.66,0.82C0.54,0.82 0.45,1 0.33,1C0.21,1 0.1,0.91 0,0.82Z"/>
<text class="f34" x="1687" y="2004">ChimericSAM</text>
</g>
<g id="n-circrnafinder">
<rect class="pb mg" x="1631" y="2085" width="225" height="100"/><path class="bar" d="M1653,2085v100M1834,2085v100"/>
<text class="f34"><tspan x="1744" y="2112">circRNA</tspan><tspan x="1744" y="2152">Finder</tspan></text>
</g>
<g id="n-crfcounts">
<path class="d bl" transform="translate(1650,2247) scale(207,101)" d="M0,0H1V1C0.9,0.91 0.78,0.82 0.66,0.82C0.54,0.82 0.45,1 0.33,1C0.21,1 0.1,0.91 0,0.82Z"/>
<text class="f25"><tspan x="1753" y="2273">circRNA Finder</tspan><tspan x="1753" y="2305">counts table</tspan></text>
</g>
<g id="n-combine">
<rect class="pb xp" x="2100" y="1841" width="225" height="222"/><path class="bar" d="M2123,1841v222M2302,1841v222"/>
<text class="f34"><tspan x="2212" y="1889">Combine</tspan><tspan x="2212" y="1929">per-sample</tspan><tspan x="2212" y="1970">Count</tspan><tspan x="2212" y="2010">tables</tspan></text>
</g>
<g id="n-dcc">
<rect class="pb mg" x="244" y="1882" width="187" height="76"/><path class="bar" d="M262,1882v76M413,1882v76"/>
<text class="f34" x="338" y="1918">DCC</text>
</g>
<g id="n-starbam">
<path class="d bl" transform="translate(1015,1910) scale(111,124)" d="M0,0H1V1C0.9,0.91 0.78,0.82 0.66,0.82C0.54,0.82 0.45,1 0.33,1C0.21,1 0.1,0.91 0,0.82Z"/>
<text class="f34"><tspan x="1068" y="1941">STAR</tspan><tspan x="1068" y="1980">BAM</tspan></text>
</g>
<g id="n-junctionsbed">
<path class="d bl" transform="translate(1256,2051) scale(300,75)" d="M0,0H1V1C0.9,0.91 0.78,0.82 0.66,0.82C0.54,0.82 0.45,1 0.33,1C0.21,1 0.1,0.91 0,0.82Z"/>
<text class="f34" x="1406" y="2080">JunctionsBED</text>
</g>
<g id="n-circexplorer2">
<rect class="pb mg" x="1256" y="2219" width="300" height="76"/><path class="bar" d="M1286,2219v76M1526,2219v76"/>
<text class="f34" x="1406" y="2256">circExplorer2</text>
</g>
<g id="n-known">
<path class="d bl" transform="translate(974,2185) scale(188,142)" d="M0,0H1V1C0.9,0.91 0.78,0.82 0.66,0.82C0.54,0.82 0.45,1 0.33,1C0.21,1 0.1,0.91 0,0.82Z"/>
<text class="f29"><tspan x="1068" y="2208">known</tspan><tspan x="1068" y="2244">circRNA with</tspan><tspan x="1068" y="2279">annotations</tspan></text>
</g>
<g id="n-clear">
<rect class="pb mg" x="713" y="2069" width="187" height="77"/><path class="bar" d="M731,2069v77M882,2069v77"/>
<text class="f34" x="806" y="2105">CLEAR</text>
</g>
<g id="n-clearquant">
<path class="d bl" transform="translate(731,2219) scale(151,111)" d="M0,0H1V1C0.9,0.91 0.78,0.82 0.66,0.82C0.54,0.82 0.45,1 0.33,1C0.21,1 0.1,0.91 0,0.82Z"/>
<text class="f29"><tspan x="806" y="2247">CLEAR</tspan><tspan x="806" y="2283">quant file</tspan></text>
</g>
<g id="n-annotateclear">
<rect class="pb lp" x="713" y="2407" width="187" height="101"/><path class="bar" d="M731,2407v101M882,2407v101"/>
<text class="f34"><tspan x="806" y="2436">annotate</tspan><tspan x="806" y="2476">CLEAR</tspan></text>
</g>
<g id="n-clearannot">
<path class="d bl" transform="translate(994,2404) scale(151,152)" d="M0,0H1V1C0.9,0.91 0.78,0.82 0.66,0.82C0.54,0.82 0.45,1 0.33,1C0.21,1 0.1,0.91 0,0.82Z"/>
<text class="f25"><tspan x="1069" y="2433">CLEAR</tspan><tspan x="1069" y="2465">annotated</tspan><tspan x="1069" y="2496">circRNAs</tspan></text>
</g>
<g id="n-circrnacount">
<path class="d bl" transform="translate(74,2051) scale(238,144)" d="M0,0H1V1C0.9,0.91 0.78,0.82 0.66,0.82C0.54,0.82 0.45,1 0.33,1C0.21,1 0.1,0.91 0,0.82Z"/>
<path class="d bl" transform="translate(87,2063.5) scale(238,144)" d="M0,0H1V1C0.9,0.91 0.78,0.82 0.66,0.82C0.54,0.82 0.45,1 0.33,1C0.21,1 0.1,0.91 0,0.82Z"/>
<path class="d bl" transform="translate(100,2076) scale(238,144)" d="M0,0H1V1C0.9,0.91 0.78,0.82 0.66,0.82C0.54,0.82 0.45,1 0.33,1C0.21,1 0.1,0.91 0,0.82Z"/>
<text class="f29 g"><tspan x="219" y="2115">circRNAcount</tspan><tspan x="219" y="2150">circCoordinates</tspan></text>
</g>
<g id="n-dcccounts">
<path class="d bl" transform="translate(412,2113) scale(151,136)" d="M0,0H1V1C0.9,0.91 0.78,0.82 0.66,0.82C0.54,0.82 0.45,1 0.33,1C0.21,1 0.1,0.91 0,0.82Z"/>
<text class="f25"><tspan x="487" y="2142">DCC</tspan><tspan x="487" y="2173">Counts</tspan><tspan x="487" y="2203">table</tspan></text>
</g>
<g id="n-persample">
<path class="d bl" transform="translate(2136,2171) scale(152,172)" d="M0,0H1V1C0.9,0.91 0.78,0.82 0.66,0.82C0.54,0.82 0.45,1 0.33,1C0.21,1 0.1,0.91 0,0.82Z"/>
<text class="f25"><tspan x="2212" y="2197">per-sample</tspan><tspan x="2212" y="2227">all-callers</tspan><tspan x="2212" y="2258">counts</tspan><tspan x="2212" y="2288">table</tspan></text>
</g>
<g id="n-mergefilter">
<rect class="pb xp" x="2437" y="2145" width="225" height="221"/><path class="bar" d="M2460,2145v221M2639,2145v221"/>
<text class="f34"><tspan x="2550" y="2192">Merge</tspan><tspan x="2550" y="2232">and filter</tspan><tspan x="2550" y="2273">across</tspan><tspan x="2550" y="2313">samples</tspan></text>
</g>
<g id="n-master">
<path class="d pu" transform="translate(2812,2166) scale(188,187)" d="M0,0H1V1C0.9,0.91 0.78,0.82 0.66,0.82C0.54,0.82 0.45,1 0.33,1C0.21,1 0.1,0.91 0,0.82Z"/>
<text class="f38 b"><tspan x="2906" y="2198">master</tspan><tspan x="2906" y="2243">counts</tspan><tspan x="2906" y="2288">matrix</tspan></text>
</g>
<g id="n-bsjs">
<path class="d bl" transform="translate(1272,2407) scale(113,76)" d="M0,0H1V1C0.9,0.91 0.78,0.82 0.66,0.82C0.54,0.82 0.45,1 0.33,1C0.21,1 0.1,0.91 0,0.82Z"/>
<text class="f34" x="1329" y="2436">BSJs</text>
</g>
<g id="n-cecounts">
<path class="d bl" transform="translate(1668,2407) scale(151,114)" d="M0,0H1V1C0.9,0.91 0.78,0.82 0.66,0.82C0.54,0.82 0.45,1 0.33,1C0.21,1 0.1,0.91 0,0.82Z"/>
<text class="f25"><tspan x="1744" y="2427">CircExplorer</tspan><tspan x="1744" y="2458">Counts</tspan><tspan x="1744" y="2489">Table</tspan></text>
</g>
<g id="n-bigwigs">
<path class="d pu" transform="translate(2812,2444) scale(178,120)" d="M0,0H1V1C0.9,0.91 0.78,0.82 0.66,0.82C0.54,0.82 0.45,1 0.33,1C0.21,1 0.1,0.91 0,0.82Z"/>
<path class="d pu" transform="translate(2822,2455.5) scale(178,120)" d="M0,0H1V1C0.9,0.91 0.78,0.82 0.66,0.82C0.54,0.82 0.45,1 0.33,1C0.21,1 0.1,0.91 0,0.82Z"/>
<path class="d pu" transform="translate(2832,2467) scale(178,120)" d="M0,0H1V1C0.9,0.91 0.78,0.82 0.66,0.82C0.54,0.82 0.45,1 0.33,1C0.21,1 0.1,0.91 0,0.82Z"/>
<text class="f41 b g" x="2921" y="2511">Bigwigs</text>
</g>
<g id="n-convert">
<rect class="pb lp" x="2155" y="2620" width="190" height="126"/><path class="bar" d="M2175,2620v126M2325,2620v126"/>
<text class="f29"><tspan x="2250" y="2645">Convert</tspan><tspan x="2250" y="2680">to</tspan><tspan x="2250" y="2715">BigWigs</tspan></text>
</g>
<g id="n-hostvirus">
<path class="d pu" transform="translate(2822,2708) scale(178,145)" d="M0,0H1V1C0.9,0.91 0.78,0.82 0.66,0.82C0.54,0.82 0.45,1 0.33,1C0.21,1 0.1,0.91 0,0.82Z"/>
<path class="d pu" transform="translate(2832,2720.5) scale(178,145)" d="M0,0H1V1C0.9,0.91 0.78,0.82 0.66,0.82C0.54,0.82 0.45,1 0.33,1C0.21,1 0.1,0.91 0,0.82Z"/>
<path class="d pu" transform="translate(2842,2733) scale(178,145)" d="M0,0H1V1C0.9,0.91 0.78,0.82 0.66,0.82C0.54,0.82 0.45,1 0.33,1C0.21,1 0.1,0.91 0,0.82Z"/>
<text class="f33 b g"><tspan x="2930" y="2769">Host/Virus</tspan><tspan x="2930" y="2809">BAMs</tspan></text>
</g>
<g id="n-bsjlinear">
<path class="d bl" transform="translate(2418,2824) scale(244,128)" d="M0,0H1V1C0.9,0.91 0.78,0.82 0.66,0.82C0.54,0.82 0.45,1 0.33,1C0.21,1 0.1,0.91 0,0.82Z"/>
<text class="f33"><tspan x="2540" y="2856">BSJ- Linear</tspan><tspan x="2540" y="2896">Spliced counts</tspan></text>
</g>
<g id="n-splitby">
<rect class="pb lp" x="2138" y="3016" width="187" height="126"/><path class="bar" d="M2156,3016v126M2307,3016v126"/>
<text class="f29"><tspan x="2231" y="3058">Split by</tspan><tspan x="2231" y="3093">host/virus</tspan></text>
</g>
<g id="n-split">
<rect class="pb lp" x="561" y="2669" width="115" height="77"/><path class="bar" d="M574,2669v77M663,2669v77"/>
<text class="f29" x="619" y="2706">Split</text>
</g>
<g id="n-chimericbam">
<path class="d bl" transform="translate(900,2669) scale(151,144)" d="M0,0H1V1C0.9,0.91 0.78,0.82 0.66,0.82C0.54,0.82 0.45,1 0.33,1C0.21,1 0.1,0.91 0,0.82Z"/>
<text class="f34"><tspan x="975" y="2700">Chimeric</tspan><tspan x="975" y="2746">BAM</tspan></text>
</g>
<g id="n-nonchimeric">
<path class="d bl" transform="translate(544,2840) scale(150,180)" d="M0,0H1V1C0.9,0.91 0.78,0.82 0.66,0.82C0.54,0.82 0.45,1 0.33,1C0.21,1 0.1,0.91 0,0.82Z"/>
<text class="f34"><tspan x="619" y="2866">Non-</tspan><tspan x="619" y="2907">Chimeric</tspan><tspan x="619" y="2951">BAM</tspan></text>
</g>
<g id="n-extractbsj">
<rect class="pb lp" x="1220" y="2645" width="186" height="125"/><path class="bar" d="M1237,2645v125M1389,2645v125"/>
<text class="f29"><tspan x="1313" y="2668">Extract</tspan><tspan x="1313" y="2703">BSJ</tspan><tspan x="1313" y="2738">alignments</tspan></text>
</g>
<g id="n-extractlinear1">
<rect class="pb lp" x="1032" y="2840" width="188" height="125"/><path class="bar" d="M1051,2840v125M1201,2840v125"/>
<text class="f29"><tspan x="1126" y="2864">Extract</tspan><tspan x="1126" y="2899">Linear</tspan><tspan x="1126" y="2934">alignments</tspan></text>
</g>
<g id="n-extractlinear2">
<rect class="pb lp" x="1032" y="2994" width="188" height="125"/><path class="bar" d="M1051,2994v125M1201,2994v125"/>
<text class="f29"><tspan x="1126" y="3017">Extract</tspan><tspan x="1126" y="3053">Linear</tspan><tspan x="1126" y="3088">alignments</tspan></text>
</g>
<g id="n-bsjbam">
<path class="d bl" transform="translate(1518,2637) scale(151,142)" d="M0,0H1V1C0.9,0.91 0.78,0.82 0.66,0.82C0.54,0.82 0.45,1 0.33,1C0.21,1 0.1,0.91 0,0.82Z"/>
<text class="f34"><tspan x="1594" y="2668">BSJ</tspan><tspan x="1594" y="2709">BAM</tspan></text>
</g>
<g id="n-linearbam">
<path class="d bl" transform="translate(1424,2852) scale(152,100)" d="M0,0H1V1C0.9,0.91 0.78,0.82 0.66,0.82C0.54,0.82 0.45,1 0.33,1C0.21,1 0.1,0.91 0,0.82Z"/>
<text class="f34"><tspan x="1500" y="2879">Linear</tspan><tspan x="1500" y="2918">BAM</tspan></text>
</g>
<g id="n-splicedbam">
<path class="d bl" transform="translate(1424,2982) scale(152,122)" d="M0,0H1V1C0.9,0.91 0.78,0.82 0.66,0.82C0.54,0.82 0.45,1 0.33,1C0.21,1 0.1,0.91 0,0.82Z"/>
<text class="f34"><tspan x="1500" y="3013">Spliced</tspan><tspan x="1500" y="3053">BAM</tspan></text>
</g>
<g id="n-collect">
<rect class="pb lp" x="1819" y="2824" width="187" height="127"/><path class="bar" d="M1837,2824v127M1988,2824v127"/>
<text class="f29"><tspan x="1912" y="2866">Collect</tspan><tspan x="1912" y="2902">Counts</tspan></text>
</g>
</svg>
